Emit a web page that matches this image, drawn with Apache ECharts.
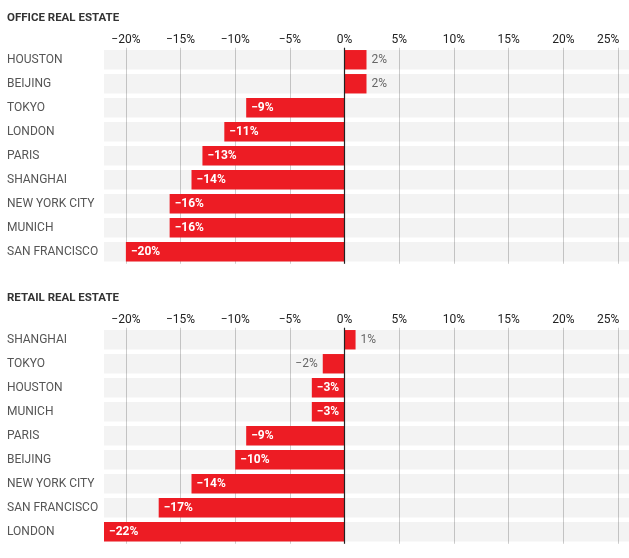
<!DOCTYPE html>
<html>
<head>
<meta charset="utf-8">
<script src="https://cdn.jsdelivr.net/npm/echarts@6/dist/echarts.min.js"></script>
<style>html,body{margin:0;padding:0;background:#fff}#c{width:629px;height:558px}</style>
</head>
<body>
<div id="c"></div>
<script>
var officeCities = ['HOUSTON','BEIJING','TOKYO','LONDON','PARIS','SHANGHAI','NEW YORK CITY','MUNICH','SAN FRANCISCO'];
var officeValues = [2, 2, -9, -11, -13, -14, -16, -16, -20];
var retailCities = ['SHANGHAI','TOKYO','HOUSTON','MUNICH','PARIS','BEIJING','NEW YORK CITY','SAN FRANCISCO','LONDON'];
var retailValues = [1, -2, -3, -3, -9, -10, -14, -17, -22];
var tickValues = [-20, -15, -10, -5, 0, 5, 10, 15, 20, 25];
var axisMin = -22, axisMax = 26;

var RED = '#ED1C24';
var FONT = 'Roboto, "Noto Sans", sans-serif';

function fmt(v) { return (v < 0 ? '\u2212' + Math.abs(v) : String(v)) + '%'; }

function barData(values) {
  return values.map(function (v) {
    var small = Math.abs(v) <= 2;
    return {
      value: v,
      label: small ? {
        position: v >= 0 ? 'right' : 'left',
        color: '#666', fontWeight: 'normal', distance: 5
      } : {
        position: 'insideLeft', color: '#fff', fontWeight: 'bold', distance: 5
      }
    };
  });
}

function xAxisFor(gi) {
  return {
    type: 'value', gridIndex: gi, position: 'top', min: axisMin, max: axisMax,
    axisLine: { show: false },
    axisTick: { show: false, customValues: tickValues },
    splitLine: { show: true, lineStyle: { color: '#cccccc', width: 1 } },
    axisLabel: {
      customValues: tickValues, margin: 2, color: '#222', fontSize: 12, fontFamily: FONT,
      formatter: function (v) { return v === 25 ? '{last|' + fmt(v) + '}' : fmt(v); },
      rich: { last: { color: '#222', fontSize: 12, fontFamily: FONT, padding: [0, 20, 0, 0] } }
    }
  };
}

function yAxisFor(gi, cats) {
  return {
    type: 'category', gridIndex: gi, data: cats, inverse: true,
    axisLine: { show: false }, axisTick: { show: false }, splitLine: { show: false },
    axisLabel: { align: 'left', margin: 97, color: '#555', fontSize: 12, fontFamily: FONT, padding: [3, 0, 0, 0] }
  };
}

function seriesFor(gi, values) {
  return {
    type: 'bar', xAxisIndex: gi, yAxisIndex: gi, data: barData(values),
    barCategoryGap: '19%', itemStyle: { color: RED },
    showBackground: true, backgroundStyle: { color: 'rgba(0,0,0,0.047)' },
    label: { show: true, fontSize: 12, fontFamily: FONT, formatter: function (p) { return fmt(p.value); } },
    markLine: {
      silent: true, symbol: 'none', label: { show: false },
      lineStyle: { color: '#222', width: 1.2, type: 'solid' },
      data: [{ xAxis: 0 }], animation: false
    },
    animation: false
  };
}

var chart = echarts.init(document.getElementById('c'));
chart.setOption({
  animation: false,
  title: [
    { text: 'OFFICE REAL ESTATE', left: 7, top: 12, padding: 0, textStyle: { fontSize: 11.5, fontWeight: 'bold', color: '#333', fontFamily: FONT } },
    { text: 'RETAIL REAL ESTATE', left: 7, top: 292, padding: 0, textStyle: { fontSize: 11.5, fontWeight: 'bold', color: '#333', fontFamily: FONT } }
  ],
  grid: [
    { left: 104, right: 0, top: 47.75, height: 216 },
    { left: 104, right: 0, top: 327.75, height: 216 }
  ],
  xAxis: [xAxisFor(0), xAxisFor(1)],
  yAxis: [yAxisFor(0, officeCities), yAxisFor(1, retailCities)],
  series: [seriesFor(0, officeValues), seriesFor(1, retailValues)]
});
</script>
</body>
</html>
